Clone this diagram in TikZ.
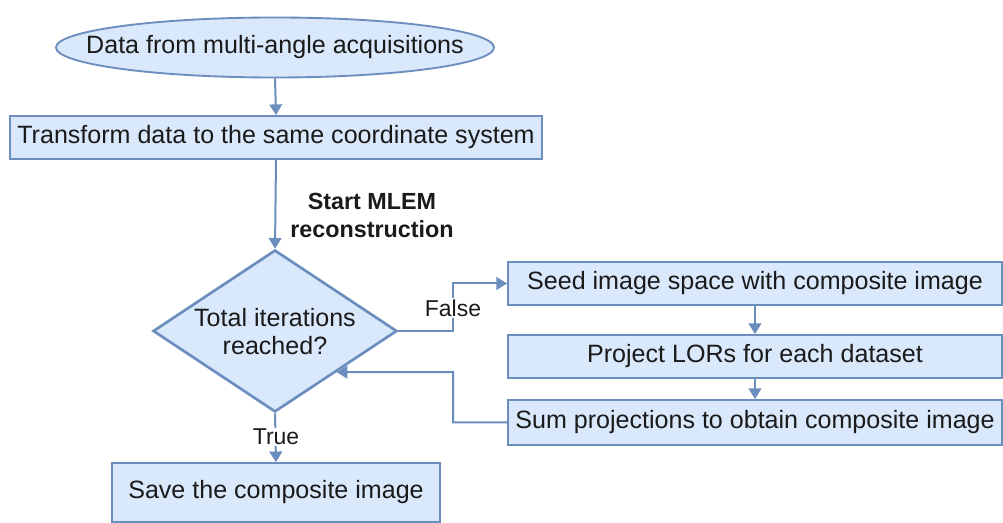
\documentclass[tikz,border=0pt]{standalone}
\usepackage{fontspec}
\setmainfont{Liberation Sans}
\usetikzlibrary{shapes.geometric,arrows.meta}
\definecolor{boxfill}{HTML}{DAE8FC}
\definecolor{boxline}{HTML}{6C8EBF}
\definecolor{txt}{HTML}{1A1A1A}
\tikzset{
  base/.style={draw=boxline,fill=boxfill,line width=1.4pt,inner sep=0pt,text=txt,font=\fontsize{18.8}{22}\selectfont},
  procbox/.style={base,rectangle,align=center},
  startnode/.style={base,ellipse,minimum width=328.5pt,minimum height=45pt},
  decision/.style={base,diamond,line width=2pt,minimum width=183pt,minimum height=121.5pt},
  plain/.style={text=txt,inner sep=0pt,align=center,font=\fontsize{18.8}{22}\selectfont},
  conn/.style={draw=boxline,line width=1.5pt,-{Triangle[length=8pt,width=9.5pt]}},
  lbl/.style={fill=white,text=txt,inner sep=1pt,font=\fontsize{17.2}{20}\selectfont},
}
\begin{document}
\begin{tikzpicture}[x=0.75pt,y=-0.75pt]
\useasboundingbox[fill=white] (0,0) rectangle (1003,523);
\node[startnode] (start) at (275,47.5) {};
\node[plain] (starttext) at (start.center) {Data from multi-angle acquisitions};
\node[procbox,minimum width=399pt,minimum height=32.25pt] (trans) at (276,137.5) {Transform data to the same coordinate system};
\node[decision] (dia) at (275,331) {};
\node[plain,font=\fontsize{18.8}{21}\selectfont] (diatext) at (275,332) {Total iterations\\reached?};
\node[procbox,minimum width=370.5pt,minimum height=32.25pt] (seed) at (755,283.5) {Seed image space with composite image};
\node[procbox,minimum width=370.5pt,minimum height=32.25pt] (proj) at (755,356.5) {Project LORs for each dataset};
\node[procbox,minimum width=370.5pt,minimum height=33.75pt] (sum) at (755,422.5) {Sum projections to obtain composite image};
\node[procbox,minimum width=246pt,minimum height=44pt] (save) at (276,492.5) {Save the composite image};
\node[align=center,text=txt,inner sep=0pt,font=\bfseries\fontsize{17.5}{21}\selectfont] (mlem) at (372,215) {Start MLEM\\reconstruction};
\coordinate (fa) at (453,331);
\coordinate (fb) at (453,372);
\draw[conn] (start.south) -- (trans.north);
\draw[conn] (trans.south) -- (dia.north);
\draw[conn] (dia.east) -- (fa) |- (seed.west);
\node[lbl] (flabel) at (453,308) {False};
\draw[conn] (seed.south) -- (proj.north);
\draw[conn] (proj.south) -- (sum.north);
\draw[conn] (sum.west) -| (fb) -- (dia.south east);
\draw[conn] (dia.south) -- (save.north);
\node[lbl] (tlabel) at (276,437) {True};
\end{tikzpicture}
\end{document}
